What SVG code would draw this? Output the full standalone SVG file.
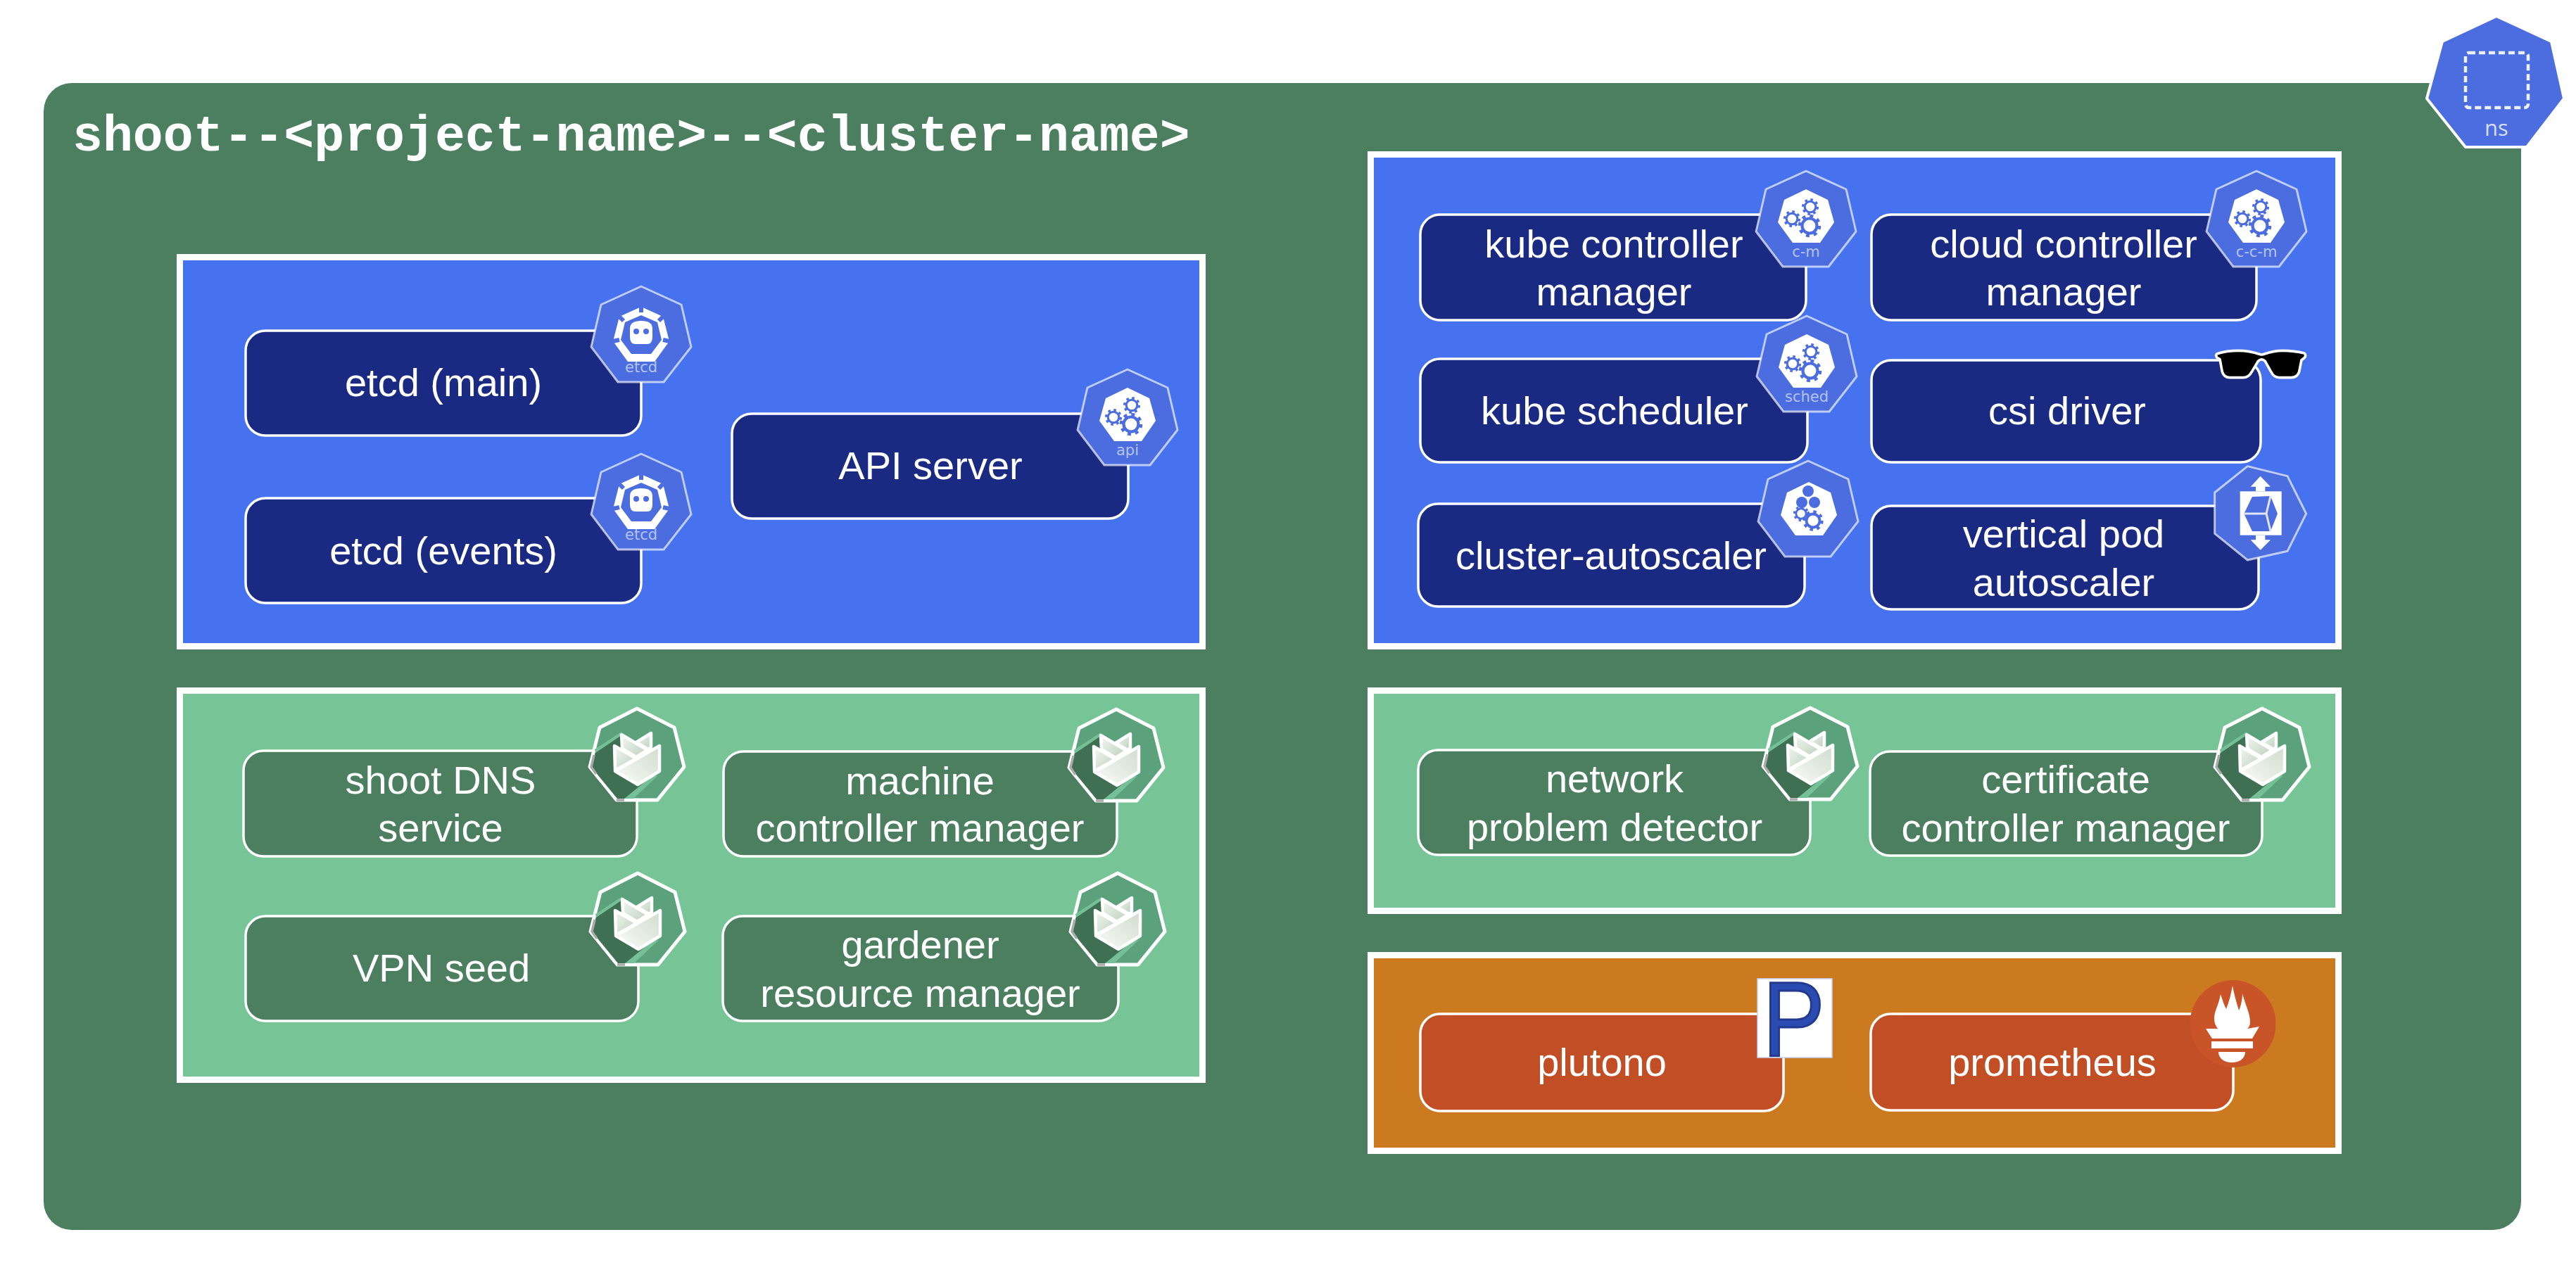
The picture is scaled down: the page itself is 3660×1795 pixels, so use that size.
<svg xmlns="http://www.w3.org/2000/svg" width="3660" height="1795" viewBox="0 0 3660 1795">
<style>
text{font-family:"Liberation Sans",Arial,sans-serif;fill:#fff}
.t{font-size:56px;text-anchor:middle}
.title{font-family:"Liberation Mono","Courier New",monospace;font-size:71.5px;font-weight:700}
.il{font-family:"DejaVu Sans",sans-serif;font-size:21px;text-anchor:middle;fill:#b4c3f2}
.box{stroke:#fff;stroke-width:9}
.n{stroke:#fff;stroke-width:3.5}
.blue{fill:#4672ef}.lg{fill:#77c596}.or{fill:#cc7a1f}
.db{fill:#1a2a82}.mg{fill:#4b7f60}.rd{fill:#c24e25}
.hep{fill:#4c6de0;stroke:#fff;stroke-opacity:.65;stroke-width:3;stroke-linejoin:round}
.ghep{fill:#5ba27c;stroke:#fff;stroke-width:5;stroke-linejoin:round}
.gf{stroke:#fff;stroke-width:4.5;stroke-linejoin:round}
</style>
<defs>
<linearGradient id="pet" x1="0" y1="1" x2="1" y2="0"><stop offset="0" stop-color="#fbfcfa"/><stop offset="1" stop-color="#cfdccc"/></linearGradient>
<linearGradient id="pet2" x1="0" y1="0" x2="1" y2="1"><stop offset="0" stop-color="#f4f7f2"/><stop offset="1" stop-color="#bcd0bc"/></linearGradient>
<g id="gear"><circle r="10" fill="none" stroke="#4c6de0" stroke-width="4"/><circle r="13" fill="none" stroke="#4c6de0" stroke-width="5" stroke-dasharray="4.5 5.7"/></g>
<g id="kbase"><polygon class="hep" points="0,0 57,26 71,86 32,136 -33,136 -71,86 -57,26"/></g>
<g id="kinner"><polygon fill="#fff" points="0,26 31,41 40,73 20,102 -19,102 -40,73 -31,41"/></g>
<g id="gears"><use href="#kinner"/><use href="#gear" transform="translate(6,51) scale(.78)"/><use href="#gear" transform="translate(-20,68) scale(.78)"/><use href="#gear" transform="translate(5,78) scale(1.05)"/></g>
<g id="etcd"><use href="#kbase"/>
<polygon fill="#fff" points="0,29 31,43 40,78 19,107 -19,107 -40,78 -31,43"/><polygon fill="#4c6de0" points="0,41 23,51 29,76 14,96 -14,96 -29,76 -23,51"/>
<path d="M0,29v8M31,43l-6,6M40,78l-9,-2M-31,43l6,6M-40,78l9,-2" stroke="#4c6de0" stroke-width="6"/>
<path d="M-16,60Q-16,49 0,49Q16,49 16,60V72Q16,82 8,82H-8Q-16,82 -16,72Z" fill="#fff"/><circle cx="-7" cy="64" r="4" fill="#4c6de0"/><circle cx="7" cy="64" r="4" fill="#4c6de0"/>
<text class="il" y="122">etcd</text></g>
<g id="gard"><polygon class="ghep" points="0,0 53,27 67,83 29,130 -29,130 -67,83 -53,27"/>
<polygon fill="#75c097" points="-22,33 -60,58 -59,63 -22,40"/><polygon fill="#75c097" points="-18,128 -5,128 30,95 20,97"/>
<polygon fill="#3f7054" points="-22,38 -59,63 -65,83 -28,128 -18,128 20,97 32,85"/>
<path d="M-61,66L-65,83L-58,93M-29,130H-18" fill="none" stroke="#aaa" stroke-width="3.5"/>
<polygon class="gf" fill="url(#pet2)" points="20,35 20,55 16,58 -1,48"/><polygon class="gf" fill="url(#pet2)" points="-22,37 15,59 -1,69 -21,57"/><polygon class="gf" fill="url(#pet2)" points="-32,53 -1,71 -31,88"/><polygon class="gf" fill="url(#pet)" points="-31,89 32,53 32,89 1,108"/></g>
</defs>

<rect id="namespace-bg" x="62" y="118" width="3520" height="1630" rx="40" class="mg"/>
<g id="namespace-icon"><polygon points="3547,23 3625,59 3643,140 3590,209 3503,209 3448,140 3470,59" fill="#4c6de0" stroke="#fff" stroke-width="4" stroke-linejoin="round"/><rect x="3503" y="75" width="89" height="78" rx="5" fill="none" stroke="#fff" stroke-opacity=".9" stroke-width="4.5" stroke-dasharray="9 5"/><text x="3547" y="193" text-anchor="middle" style="font-family:'Open Sans',sans-serif;font-size:31px;fill:#d5ddf7">ns</text></g>
<text class="title" x="103" y="214">shoot--&lt;project-name&gt;--&lt;cluster-name&gt;</text>

<g id="group-etcd-api"><rect class="box blue" x="255.5" y="365.5" width="1453" height="553"/></g>
<g id="group-controllers"><rect class="box blue" x="1947.5" y="219.5" width="1375" height="699"/></g>
<g id="group-gardener-left"><rect class="box lg" x="255.5" y="981.5" width="1453" height="553"/></g>
<g id="group-gardener-right"><rect class="box lg" x="1947.5" y="981.5" width="1375" height="313"/></g>
<g id="group-monitoring"><rect class="box or" x="1947.5" y="1357.5" width="1375" height="278"/></g>
<g id="connectors"/>

<g id="etcd-main"><rect class="n db" x="349" y="470" width="562" height="149" rx="28"/><text class="t" x="630" y="563">etcd (main)</text><use href="#etcd" x="911" y="407"/></g>
<g id="etcd-events"><rect class="n db" x="349" y="708" width="562" height="149" rx="28"/><text class="t" x="630" y="802">etcd (events)</text><use href="#etcd" x="911" y="645"/></g>
<g id="api-server"><rect class="n db" x="1040" y="588" width="563" height="149" rx="28"/><text class="t" x="1322" y="681">API server</text><g transform="translate(1602,525)"><use href="#kbase"/><use href="#gears"/><text class="il" y="122">api</text></g></g>

<g id="kube-controller-manager"><rect class="n db" x="2018" y="305" width="548" height="150" rx="28"/><text class="t" x="2293" y="366">kube controller</text><text class="t" x="2293" y="434">manager</text><g transform="translate(2566,243)"><use href="#kbase"/><use href="#gears"/><text class="il" y="122">c-m</text></g></g>
<g id="cloud-controller-manager"><rect class="n db" x="2659" y="305" width="547" height="150" rx="28"/><text class="t" x="2932" y="366">cloud controller</text><text class="t" x="2932" y="434">manager</text><g transform="translate(3206,243)"><use href="#kbase"/><use href="#gears"/><text class="il" y="122">c-c-m</text></g></g>
<g id="kube-scheduler"><rect class="n db" x="2018" y="510" width="550" height="147" rx="28"/><text class="t" x="2294" y="603">kube scheduler</text><g transform="translate(2567,449)"><use href="#kbase"/><use href="#gears"/><text class="il" y="122">sched</text></g></g>
<g id="csi-driver"><rect class="n db" x="2659" y="512" width="553" height="145" rx="28"/><text class="t" x="2937" y="603">csi driver</text>
<path transform="translate(3100,440) scale(.3333)" fill="#000" stroke="#fff" stroke-width="11" stroke-linejoin="round" d="M150,188Q190,175 240,175Q290,175 330,190Q340,194 350,190Q390,175 430,175Q480,175 522,186Q532,195 522,206L510,215L500,265Q492,290 465,290H415Q392,290 380,265L355,220Q340,205 325,220L298,265Q285,290 260,290H205Q180,290 172,265L162,212L150,205Q142,195 150,188Z"/></g>
<g id="cluster-autoscaler"><rect class="n db" x="2015" y="716" width="549" height="146" rx="28"/><text class="t" x="2289" y="809">cluster-autoscaler</text><g transform="translate(2569,655)"><use href="#kbase"/><use href="#kinner" transform="translate(1,4)"/><circle cy="43" r="8" fill="#4c6de0"/><circle cx="-9" cy="59" r="8" fill="#4c6de0"/><circle cx="9" cy="59" r="8" fill="#4c6de0"/><use href="#gear" transform="translate(-10,75) scale(.72)"/><use href="#gear" transform="translate(7,85) scale(.95)"/></g></g>
<g id="vertical-pod-autoscaler"><rect class="n db" x="2659" y="719" width="550" height="147" rx="28"/><text class="t" x="2932" y="778">vertical pod</text><text class="t" x="2932" y="847">autoscaler</text>
<g transform="translate(3100,440) scale(.3333)"><polygon class="hep" style="stroke-width:9" points="140,780 140,955 280,1068 450,1030 530,870 450,710 280,668"/><rect x="248" y="775" width="177" height="187" fill="#fff"/><polygon fill="#fff" points="335,710 378,755 355,755 355,775 315,775 315,755 293,755"/><polygon fill="#fff" points="335,1025 378,982 355,982 355,962 315,962 315,982 293,982"/><polygon fill="#4c6de0" points="300,798 378,795 408,870 378,945 300,945 265,870"/><path d="M378,795L360,870L378,945M265,870H360" fill="none" stroke="#dfe5fa" stroke-width="9"/></g></g>

<g id="shoot-dns-service"><rect class="n mg" x="346" y="1067" width="559" height="150" rx="28"/><text class="t" x="626" y="1128">shoot DNS</text><text class="t" x="626" y="1196">service</text><use href="#gard" x="905" y="1007"/></g>
<g id="machine-controller-manager"><rect class="n mg" x="1028" y="1068" width="559" height="149" rx="28"/><text class="t" x="1307" y="1129">machine</text><text class="t" x="1307" y="1196">controller manager</text><use href="#gard" x="1586" y="1008"/></g>
<g id="vpn-seed"><rect class="n mg" x="349" y="1302" width="558" height="149" rx="28"/><text class="t" x="627" y="1395">VPN seed</text><use href="#gard" x="906" y="1241"/></g>
<g id="gardener-resource-manager"><rect class="n mg" x="1027" y="1302" width="562" height="149" rx="28"/><text class="t" x="1307.5" y="1362">gardener</text><text class="t" x="1307.5" y="1431">resource manager</text><use href="#gard" x="1588" y="1241"/></g>
<g id="network-problem-detector"><rect class="n mg" x="2015" y="1066" width="557" height="149" rx="28"/><text class="t" x="2294" y="1126">network</text><text class="t" x="2294" y="1195">problem detector</text><use href="#gard" x="2572" y="1006"/></g>
<g id="certificate-controller-manager"><rect class="n mg" x="2657" y="1068" width="557" height="148" rx="28"/><text class="t" x="2935" y="1127">certificate</text><text class="t" x="2935" y="1196">controller manager</text><use href="#gard" x="3214" y="1007"/></g>

<g id="plutono"><rect class="n rd" x="2018" y="1441" width="516" height="138" rx="28"/><text class="t" x="2276" y="1529">plutono</text><rect x="2497" y="1391" width="106" height="112" fill="#fff" stroke="#c5d2ef" stroke-width="1.5"/><text transform="translate(2504.5,1500) scale(.88,1)" style="font-size:150px;fill:#2a4bb0;stroke:#23388f;stroke-width:3">P</text></g>
<g id="prometheus"><rect class="n rd" x="2658" y="1441" width="515" height="137" rx="28"/><text class="t" x="2916" y="1529">prometheus</text><ellipse cx="3172.5" cy="1455" rx="61" ry="62" fill="#c85427"/>
<path fill="#fff" d="M3172,1401C3175,1416 3178,1426 3181,1436C3184,1430 3186,1420 3186,1412C3190,1428 3197,1440 3197,1452C3197,1458 3195,1460 3193,1462L3210,1459L3200,1476H3143L3134,1462L3151,1462C3148,1458 3146,1454 3146,1448C3146,1436 3152,1430 3155,1413C3158,1422 3160,1428 3163,1434C3167,1424 3170,1412 3172,1401Z"/>
<rect x="3142" y="1480" width="59" height="10" fill="#fff"/><path fill="#fff" d="M3152,1495H3190C3190,1504 3182,1510 3171,1510C3160,1510 3152,1504 3152,1495Z"/></g>
</svg>
